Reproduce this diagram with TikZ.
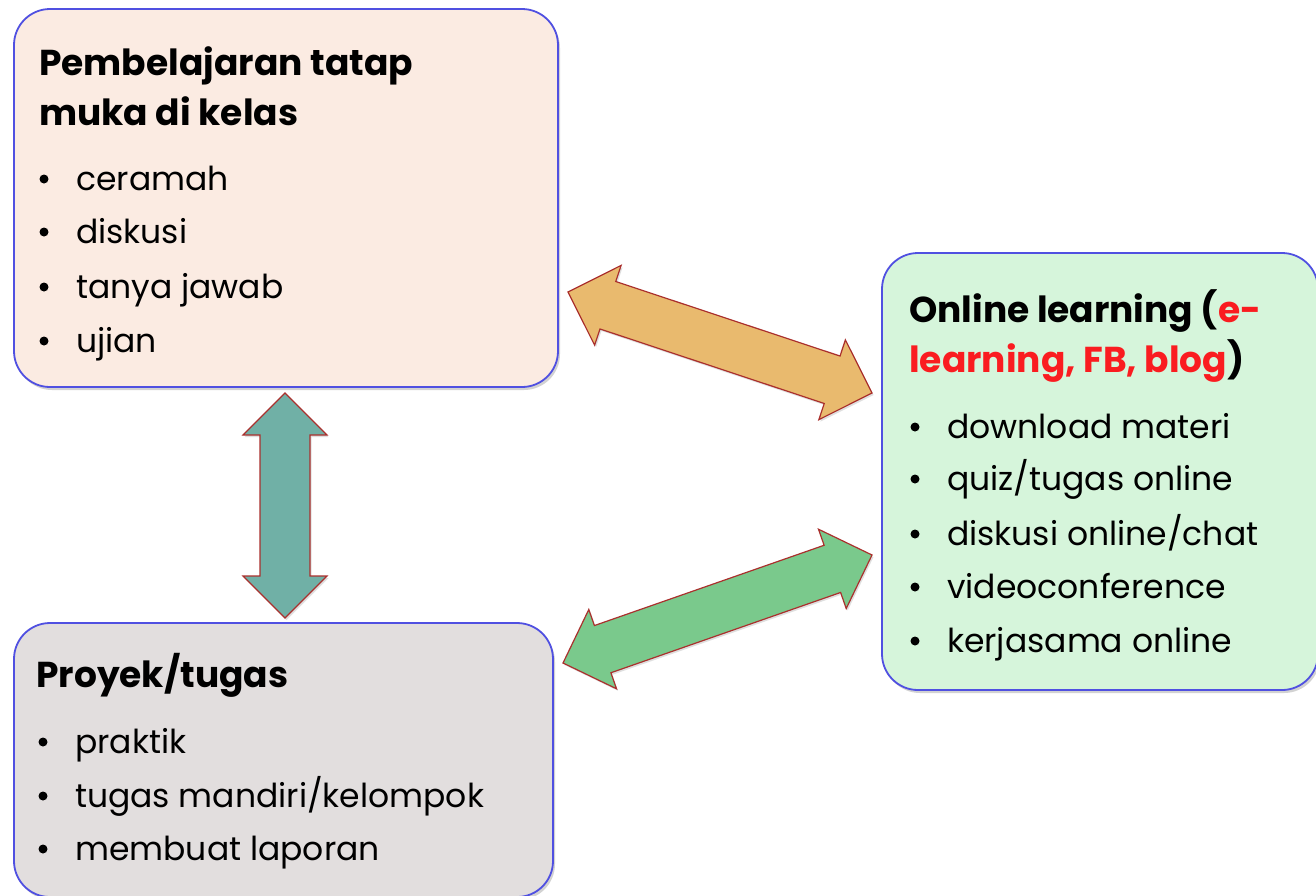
\documentclass[tikz,border=0pt]{standalone}
\usepackage{fontspec}
\setmainfont{Poppins}
\usetikzlibrary{calc,shadows}

\definecolor{edgeblue}{RGB}{80,80,225}
\definecolor{peach}{RGB}{251,235,226}
\definecolor{mint}{RGB}{214,245,219}
\definecolor{stone}{RGB}{226,222,222}
\definecolor{ochre}{RGB}{233,186,110}
\definecolor{leaf}{RGB}{122,201,140}
\definecolor{teal}{RGB}{112,176,166}
\definecolor{rim}{RGB}{170,48,45}
\definecolor{hot}{RGB}{250,28,32}

\tikzset{
  panel/.style={draw=edgeblue, line width=1.8pt, rounded corners=36pt, inner sep=0pt,
    drop shadow={opacity=0.35, shadow xshift=2pt, shadow yshift=-3pt}},
  headline/.style={anchor=base west, inner sep=0pt, font=\fontsize{36}{42}\selectfont\bfseries},
  itemtext/.style={anchor=base west, inner sep=0pt, font=\fontsize{33}{38}\selectfont},
  itemdot/.style={circle, fill=black, inner sep=0pt, minimum size=9pt},
  blockarrow/.style={draw=rim, line width=1.2pt, line join=miter,
    drop shadow={opacity=0.25, shadow xshift=1.5pt, shadow yshift=-2pt}},
}

% bullet line: name, bullet x, text x, baseline y, text
\newcommand\bulletline[5]{%
  \node[itemdot] (#1-dot) at (#2,#4-11) {};
  \node[itemtext] (#1) at (#3,#4) {#5};}

% double-headed block arrow between two named points
\newcommand\twowayarrow[3]{%
  \path[blockarrow,#3] (#1)
    -- ($(#1)!42pt!(#2)!42pt!90:(#2)$)
    -- ($(#1)!42pt!(#2)!25pt!90:(#2)$)
    -- ($(#2)!42pt!(#1)!25pt!-90:(#1)$)
    -- ($(#2)!42pt!(#1)!42pt!-90:(#1)$)
    -- (#2)
    -- ($(#2)!42pt!(#1)!42pt!90:(#1)$)
    -- ($(#2)!42pt!(#1)!25pt!90:(#1)$)
    -- ($(#1)!42pt!(#2)!25pt!-90:(#2)$)
    -- ($(#1)!42pt!(#2)!42pt!-90:(#2)$)
    -- cycle;}

\begin{document}
\begin{tikzpicture}[x=1pt,y=-1pt]
  \useasboundingbox (0,0) rectangle (1316,895);
  \fill[white] (0,0) rectangle (1316,895);

  % the three activity panels
  \node[panel, fill=peach, minimum width=544pt, minimum height=378pt] (kelas) at (286,198) {};
  \node[panel, fill=mint, minimum width=436pt, minimum height=437pt] (online) at (1100,471.5) {};
  \node[panel, fill=stone, minimum width=539pt, minimum height=274pt] (proyek) at (283.5,760) {};

  % connecting arrows
  \coordinate (kelasR) at (568,292);
  \coordinate (onlineT) at (872,393);
  \coordinate (proyekR) at (563,663);
  \coordinate (onlineB) at (872,555);
  \coordinate (kelasB) at (285,393);
  \coordinate (proyekT) at (285,618);
  \twowayarrow{kelasR}{onlineT}{fill=ochre}
  \twowayarrow{proyekR}{onlineB}{fill=leaf}
  \twowayarrow{kelasB}{proyekT}{fill=teal}

  % classroom panel
  \node[headline] (t1a) at (39,75) {Pembelajaran tatap};
  \node[headline] (t1b) at (39,125) {muka di kelas};
  \bulletline{k1}{44}{76}{190}{ceramah}
  \bulletline{k2}{44}{76}{243}{diskusi}
  \bulletline{k3}{44}{76}{298}{tanya jawab}
  \bulletline{k4}{44}{76}{352}{ujian}

  % online panel
  \node[headline] (t2a) at (909,322) {Online learning (\textcolor{hot}{e-}};
  \node[headline] (t2b) at (909,372) {\textcolor{hot}{learning, FB, blog})};
  \bulletline{o1}{915}{947}{438}{download materi}
  \bulletline{o2}{915}{947}{490}{quiz/tugas online}
  \bulletline{o3}{915}{947}{545}{diskusi online/chat}
  \bulletline{o4}{915}{947}{598}{videoconference}
  \bulletline{o5}{915}{947}{652}{kerjasama online}

  % project panel
  \node[headline] (t3) at (36,687) {Proyek/tugas};
  \bulletline{p1}{43}{75}{753}{praktik}
  \bulletline{p2}{43}{75}{807}{tugas mandiri/kelompok}
  \bulletline{p3}{43}{75}{860}{membuat laporan}
\end{tikzpicture}
\end{document}
